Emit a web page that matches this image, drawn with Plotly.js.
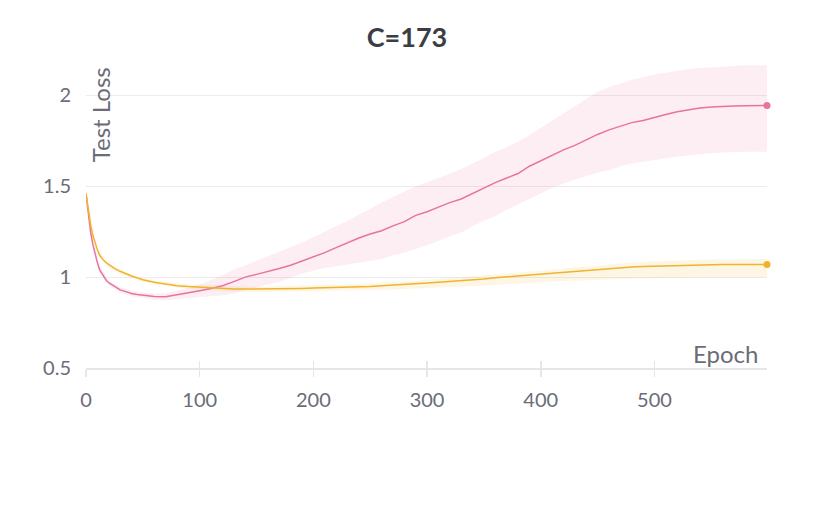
<!DOCTYPE html>
<html>
<head>
<meta charset="utf-8">
<script src="https://cdn.plot.ly/plotly-3.0.1.min.js"></script>
<style>
  html, body { margin: 0; padding: 0; background: #fff; }
  #loss { width: 814px; height: 527px; }
</style>
</head>
<body>
<div id="loss"></div>
<script>
const epochs = [0, 2, 4, 6, 8, 10, 12, 15, 18, 21, 25, 30, 35, 40, 45, 50,
  60, 70, 80, 90, 100, 110, 120, 130, 140, 150, 160, 170, 180, 190,
  200, 210, 220, 230, 240, 250, 260, 270, 280, 290,
  300, 310, 320, 330, 340, 350, 360, 370, 380, 390,
  400, 410, 420, 430, 440, 450, 460, 470, 480, 490,
  500, 510, 520, 530, 540, 550, 560, 570, 580, 590, 599];

const pinkMean = [1.46, 1.34, 1.25, 1.18, 1.12, 1.08, 1.04, 1.01, 0.98, 0.965, 0.95, 0.93, 0.92, 0.91, 0.905, 0.90,
  0.893, 0.892, 0.902, 0.912, 0.925, 0.937, 0.953, 0.975, 1.00, 1.015, 1.03, 1.047, 1.065, 1.088,
  1.112, 1.135, 1.162, 1.19, 1.215, 1.237, 1.255, 1.282, 1.305, 1.34,
  1.36, 1.385, 1.41, 1.43, 1.46, 1.49, 1.52, 1.545, 1.57, 1.61,
  1.64, 1.67, 1.70, 1.725, 1.755, 1.785, 1.81, 1.83, 1.85, 1.862,
  1.88, 1.895, 1.91, 1.922, 1.93, 1.936, 1.94, 1.942, 1.943, 1.944, 1.944];

const yellowMean = [1.46, 1.37, 1.29, 1.23, 1.185, 1.15, 1.12, 1.095, 1.078, 1.063, 1.048, 1.032, 1.017, 1.006, 0.996, 0.986,
  0.972, 0.962, 0.953, 0.948, 0.944, 0.94, 0.937, 0.935, 0.934, 0.934, 0.935, 0.936, 0.937, 0.938,
  0.94, 0.941, 0.943, 0.945, 0.946, 0.948, 0.952, 0.955, 0.958, 0.963,
  0.967, 0.972, 0.976, 0.98, 0.985, 0.99, 0.997, 1.002, 1.007, 1.012,
  1.018, 1.023, 1.028, 1.034, 1.039, 1.044, 1.049, 1.053, 1.056, 1.059,
  1.061, 1.063, 1.065, 1.066, 1.067, 1.068, 1.069, 1.069, 1.07, 1.07, 1.07];

// min/max band, read every 10 epochs
const bandEpochs = [0, 10, 20, 30, 40, 50, 60, 70, 80, 90,
  100, 110, 120, 130, 140, 150, 160, 170, 180, 190,
  200, 210, 220, 230, 240, 250, 260, 270, 280, 290,
  300, 310, 320, 330, 340, 350, 360, 370, 380, 390,
  400, 410, 420, 430, 440, 450, 460, 470, 480, 490,
  500, 510, 520, 530, 540, 550, 560, 570, 580, 590, 599];

const pinkUpper = [1.47, 1.09, 0.98, 0.945, 0.925, 0.915, 0.91, 0.91, 0.925, 0.94,
  0.96, 0.985, 1.01, 1.04, 1.065, 1.09, 1.115, 1.14, 1.165, 1.19,
  1.22, 1.25, 1.28, 1.31, 1.345, 1.375, 1.41, 1.44, 1.47, 1.50,
  1.52, 1.545, 1.57, 1.595, 1.625, 1.655, 1.69, 1.715, 1.745, 1.78,
  1.82, 1.86, 1.90, 1.94, 1.98, 2.02, 2.045, 2.065, 2.085, 2.10,
  2.115, 2.125, 2.135, 2.145, 2.15, 2.155, 2.16, 2.162, 2.165, 2.165, 2.165];

const pinkLower = [1.45, 1.07, 0.955, 0.915, 0.895, 0.885, 0.875, 0.873, 0.88, 0.885,
  0.89, 0.895, 0.90, 0.91, 0.93, 0.945, 0.96, 0.975, 0.995, 1.02,
  1.035, 1.05, 1.06, 1.07, 1.08, 1.09, 1.10, 1.12, 1.135, 1.155,
  1.175, 1.20, 1.225, 1.245, 1.28, 1.31, 1.335, 1.37, 1.40, 1.43,
  1.46, 1.49, 1.515, 1.535, 1.555, 1.575, 1.59, 1.61, 1.625, 1.635,
  1.645, 1.655, 1.662, 1.67, 1.677, 1.682, 1.686, 1.689, 1.69, 1.69, 1.69];

const yellowUpper = [1.47, 1.16, 1.075, 1.04, 1.015, 0.995, 0.982, 0.973, 0.965, 0.96,
  0.957, 0.954, 0.951, 0.95, 0.949, 0.949, 0.95, 0.951, 0.952, 0.953,
  0.955, 0.956, 0.958, 0.96, 0.962, 0.965, 0.968, 0.971, 0.975, 0.98,
  0.985, 0.99, 0.995, 0.999, 1.003, 1.008, 1.013, 1.018, 1.024, 1.03,
  1.035, 1.042, 1.048, 1.054, 1.06, 1.065, 1.07, 1.075, 1.08, 1.084,
  1.087, 1.09, 1.092, 1.094, 1.095, 1.097, 1.098, 1.099, 1.10, 1.10, 1.10];

const yellowLower = [1.45, 1.14, 1.05, 1.02, 0.995, 0.975, 0.962, 0.952, 0.942, 0.935,
  0.93, 0.926, 0.922, 0.92, 0.918, 0.917, 0.918, 0.919, 0.92, 0.921,
  0.922, 0.923, 0.924, 0.925, 0.926, 0.928, 0.93, 0.932, 0.935, 0.937,
  0.94, 0.942, 0.945, 0.947, 0.95, 0.954, 0.958, 0.961, 0.965, 0.968,
  0.972, 0.975, 0.978, 0.98, 0.983, 0.985, 0.988, 0.99, 0.992, 0.993,
  0.995, 0.996, 0.997, 0.998, 0.998, 0.999, 0.999, 1.0, 1.0, 1.0, 1.0];

const yTicks = [0.5, 1, 1.5, 2];
const xTicks = [0, 100, 200, 300, 400, 500];

const PINK = '#e8739f';
const YELLOW = '#f0b32c';
const GREY = '#6b6c78';
const FONT = 'Lato, "Source Sans Pro", sans-serif';

function band(lo, hi, fill) {
  // lower edge then upper edge filled down to it
  return [
    { x: bandEpochs, y: lo, type: 'scatter', mode: 'lines', line: { width: 0 }, hoverinfo: 'skip', showlegend: false },
    { x: bandEpochs, y: hi, type: 'scatter', mode: 'lines', line: { width: 0 }, fill: 'tonexty', fillcolor: fill, hoverinfo: 'skip', showlegend: false }
  ];
}

const last = epochs.length - 1;

var data = [].concat(
  band(yellowLower, yellowUpper, 'rgba(240,179,44,0.12)'),
  band(pinkLower, pinkUpper, 'rgba(232,115,159,0.12)'),
  [
    { x: epochs, y: pinkMean, type: 'scatter', mode: 'lines', line: { color: PINK, width: 1.5 }, showlegend: false },
    { x: epochs, y: yellowMean, type: 'scatter', mode: 'lines', line: { color: YELLOW, width: 1.5 }, showlegend: false },
    // end-of-run dots, on the overlay axis so its tick marks get drawn
    { x: [epochs[last]], y: [pinkMean[last]], xaxis: 'x2', type: 'scatter', mode: 'markers', marker: { color: PINK, size: 7 }, showlegend: false, cliponaxis: false },
    { x: [epochs[last]], y: [yellowMean[last]], xaxis: 'x2', type: 'scatter', mode: 'markers', marker: { color: YELLOW, size: 7 }, showlegend: false, cliponaxis: false }
  ]
);

var layout = {
  width: 814,
  height: 527,
  paper_bgcolor: '#fff',
  plot_bgcolor: '#fff',
  margin: { l: 86, r: 47, t: 59, b: 159, pad: 0 },
  font: { family: FONT, color: GREY, size: 19 },
  title: {
    text: '<b>C=173</b>',
    font: { family: FONT, size: 27, color: '#3b3d45' },
    x: 0.5, xref: 'container', xanchor: 'center',
    y: 1 - 38 / 527, yref: 'container', yanchor: 'middle'
  },
  xaxis: {
    range: [0, 599],
    tickvals: xTicks,
    showgrid: false,
    zeroline: false,
    showline: true,
    linecolor: '#e6e6e6',
    linewidth: 1.5,
    ticks: 'outside',
    ticklen: 7,
    tickcolor: '#e6e6e6',
    tickwidth: 1.5,
    ticklabelstandoff: 6,
    tickfont: { family: FONT, size: 20, color: GREY }
  },
  xaxis2: {
    overlaying: 'x',
    matches: 'x',
    anchor: 'y',
    tickvals: xTicks,
    showticklabels: false,
    showgrid: false,
    zeroline: false,
    showline: false,
    ticks: 'inside',
    ticklen: 7,
    tickcolor: '#e6e6e6',
    tickwidth: 1.5
  },
  yaxis: {
    range: [0.5, 2.2],
    tickvals: yTicks,
    showgrid: true,
    gridcolor: '#ececec',
    gridwidth: 1,
    zeroline: false,
    showline: false,
    ticks: '',
    ticklabelstandoff: 14,
    tickfont: { family: FONT, size: 20, color: GREY }
  },
  annotations: [
    {
      text: 'Test Loss', textangle: -90,
      xref: 'paper', x: 0, xanchor: 'center', xshift: 14,
      yref: 'y', y: 2.163, yanchor: 'top',
      showarrow: false, font: { family: FONT, size: 24, color: GREY }
    },
    {
      text: 'Epoch',
      xref: 'paper', x: 1, xanchor: 'right', xshift: -7,
      yref: 'y', y: 0.582, yanchor: 'middle',
      showarrow: false, font: { family: FONT, size: 24, color: GREY }
    }
  ]
};

Plotly.newPlot('loss', data, layout, { displayModeBar: false, staticPlot: true });
</script>
</body>
</html>
